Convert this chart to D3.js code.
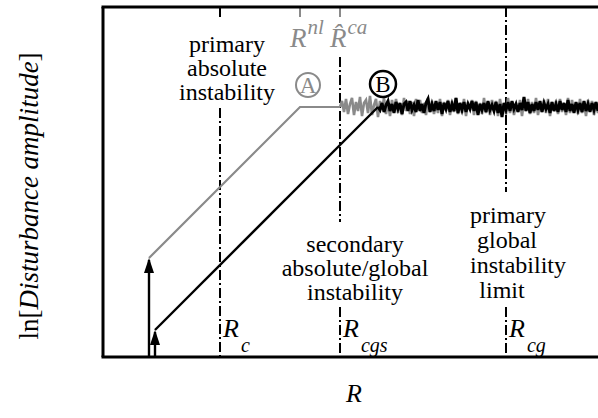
<!DOCTYPE html>
<html><head><meta charset="utf-8">
<script src="https://cdn.jsdelivr.net/npm/d3@7"></script>
<style>
html,body{margin:0;padding:0;background:#fff;}
</style></head>
<body><svg id="c" width="598" height="418" font-family="'Liberation Serif', 'Times New Roman', Times, serif"></svg>
<script>
// ---- data (R in arbitrary units, amplitude in arbitrary log units) ----
const criticalR = [ {name:"Rc", sub:"c", r:117}, {name:"Rcgs", sub:"cgs", r:237}, {name:"Rcg", sub:"cg", r:403} ];
const topMarks = [ {sup:"nl", r:197, hat:false}, {sup:"ca", r:237, hat:true} ];
const pathA = [[46,99],[197,250],[237,250]];
const pathB = [[52,27],[275,250]];
const arrows = [ {r:46, from:0, to:99}, {r:52, from:0, to:27} ];
const saturation = 250;
const noiseStep = 2;
const greyStart = 237;
const greyNoise = [0,6,-5,8,-7,3,9,-8,5,-4,10,-9,4,7,-6,11,-8,2,8,-10,6,-3,9,-7,4,-9,7,-5,8,-6,3,-8,9,-4,6,-7,5,-9,8,-3,7,-6,4,-8,9,-5,6,-7,3,-6,8,-9,5,-4,7,-8,6,-5,9,-7,4,-6,8,-9,5,-3,7,-8,6,-5,4,-7,9,-6,5,-8,7,-4,6,-9,8,-5,3,-7,9,-6,5,-8,4,-5,7,-9,6,-4,8,-7,5,-6,9,-8,4,-5,7,-6,8,-9,5,-4,6,-7,8,-5,4,-8,9,-6,7,-5,3,-7,8,-6,5,-9,7,-4,6,-8,5,-6,4];
const blackStart = 275;
const blackNoise = [0,-3,4,-5,2,6,-4,3,-6,5,-2,4,-7,3,5,-4,6,-3,2,-5,7,-4,3,-6,4,8,-5,3,-4,6,-3,5,-7,4,-2,6,-5,3,-4,9,-6,4,-3,5,-5,3,-2,6,-4,5,-8,3,-3,4,-5,6,-3,2,-4,5,-6,3,-10,4,-3,5,-4,6,-2,3,-5,4,-3,10,-4,5,-6,3,-4,5,-3,6,-5,4,-2,3,-6,5,-4,3,-5,6,-3,4,-5,7,-4,3,-6,5,-3,4,-5,6,-4,3,-5,4,-3,5,-4];
const labelPrimaryAbs = ["primary","absolute","instability"];
const labelSecondary = ["secondary","absolute/global","instability"];
const labelPrimaryGlobal = ["primary","global","instability","limit"];

// ---- scales ----
const svg = d3.select("#c");
const x = d3.scaleLinear().domain([0,495]).range([103,598]);
const y = d3.scaleLinear().domain([0,350]).range([357,7]);
const grey = "#8a8a8a";
const FONT = "'Liberation Serif', 'Times New Roman', Times, serif";

// dash-dot vertical lines
const dd = "10,3,2,3";
function vseg(r, y0, y1, col, dash){
  svg.append("line").attr("x1",x(r)).attr("x2",x(r)).attr("y1",y(y0)).attr("y2",y(y1))
    .attr("stroke",col||"#000").attr("stroke-width",2).attr("stroke-dasharray",dash||null);
}
vseg(117, 350, 340, "#000", dd);
vseg(117, 249, 0, "#000", dd);
vseg(237, 300, 135, "#000", dd);
vseg(237, 50, 0, "#000", dd);
vseg(403, 350, 165, "#000", dd);
vseg(403, 50, 0, "#000", dd);
topMarks.forEach(m=> vseg(m.r, 350, 340, grey, null));

const line = d3.line().x(d=>x(d[0])).y(d=>y(d[1]));
const greyPts = greyNoise.map((v,i)=>[greyStart+i*noiseStep, saturation+v]);
const blackPts = blackNoise.map((v,i)=>[blackStart+i*noiseStep, saturation+v]);

svg.append("path").attr("d",line(pathA)).attr("fill","none").attr("stroke",grey).attr("stroke-width",2.2);
svg.append("path").attr("d",line(greyPts)).attr("fill","none").attr("stroke",grey).attr("stroke-width",2.6);
svg.append("path").attr("d",line(pathB)).attr("fill","none").attr("stroke","#000").attr("stroke-width",2.4);
svg.append("path").attr("d",line(blackPts)).attr("fill","none").attr("stroke","#000").attr("stroke-width",3);

arrows.forEach(a=>{
  svg.append("line").attr("x1",x(a.r)).attr("x2",x(a.r)).attr("y1",y(a.from)).attr("y2",y(a.to)+2)
   .attr("stroke","#000").attr("stroke-width",2.4);
  svg.append("path").attr("d",`M${x(a.r)-5},${y(a.to)+15} L${x(a.r)},${y(a.to)} L${x(a.r)+5},${y(a.to)+15} Z`).attr("fill","#000");
});

// frame (left, top, bottom)
svg.append("line").attr("x1",x(0)).attr("x2",x(0)).attr("y1",y(350)).attr("y2",y(0)).attr("stroke","#000").attr("stroke-width",3);
svg.append("line").attr("x1",x(0)-1.5).attr("x2",x(495)).attr("y1",y(350)).attr("y2",y(350)).attr("stroke","#000").attr("stroke-width",3);
svg.append("line").attr("x1",x(0)-1.5).attr("x2",x(495)).attr("y1",y(0)).attr("y2",y(0)).attr("stroke","#000").attr("stroke-width",3);

// circles A / B
svg.append("circle").attr("cx",308).attr("cy",85).attr("r",12).attr("fill","none").attr("stroke",grey).attr("stroke-width",2);
svg.append("text").attr("x",308).attr("y",93).attr("text-anchor","middle").attr("font-family",FONT).attr("font-size",23).attr("fill",grey).text("A");
svg.append("circle").attr("cx",383).attr("cy",84).attr("r",13).attr("fill","none").attr("stroke","#000").attr("stroke-width",2.5);
svg.append("text").attr("x",383).attr("y",92).attr("text-anchor","middle").attr("font-family",FONT).attr("font-size",23).attr("fill","#000").text("B");

function block(lines, cx, y0, dy){
  lines.forEach((t,i)=> svg.append("text").attr("x",cx).attr("y",y0+i*dy).attr("text-anchor","middle").attr("font-family",FONT).attr("font-size",24).text(t));
}
block(labelPrimaryAbs, 227, 52, 24);
block(labelSecondary, 355, 252, 24);
const pgx = [508, 507, 518, 502];
labelPrimaryGlobal.forEach((t,i)=> svg.append("text").attr("x",pgx[i]).attr("y",223+i*25).attr("text-anchor","middle").attr("font-family",FONT).attr("font-size",24).text(t));

criticalR.forEach(c=>{
  const t = svg.append("text").attr("x",x(c.r)+3).attr("y",337).attr("font-family",FONT).attr("font-size",26).attr("font-style","italic");
  t.append("tspan").text("R");
  t.append("tspan").attr("dx",2).attr("dy",15).attr("font-size",20).text(c.sub);
});
topMarks.forEach(m=>{
  const t = svg.append("text").attr("x",x(m.r)-10).attr("y",47).attr("font-family",FONT).attr("font-size",27).attr("font-style","italic").attr("fill",grey);
  t.append("tspan").text(m.hat ? "R\u0302" : "R");
  t.append("tspan").attr("dx",1).attr("dy",-13).attr("font-size",21).text(m.sup);
});

svg.append("text").attr("x",354).attr("y",402).attr("text-anchor","middle").attr("font-family",FONT).attr("font-size",26).attr("font-style","italic").text("R");
const yl = svg.append("text").attr("transform","translate(38,196) rotate(-90)").attr("text-anchor","middle").attr("font-family",FONT).attr("font-size",27);
yl.append("tspan").text("ln[");
yl.append("tspan").attr("font-style","italic").text("Disturbance amplitude");
yl.append("tspan").text("]");
</script></body></html>
